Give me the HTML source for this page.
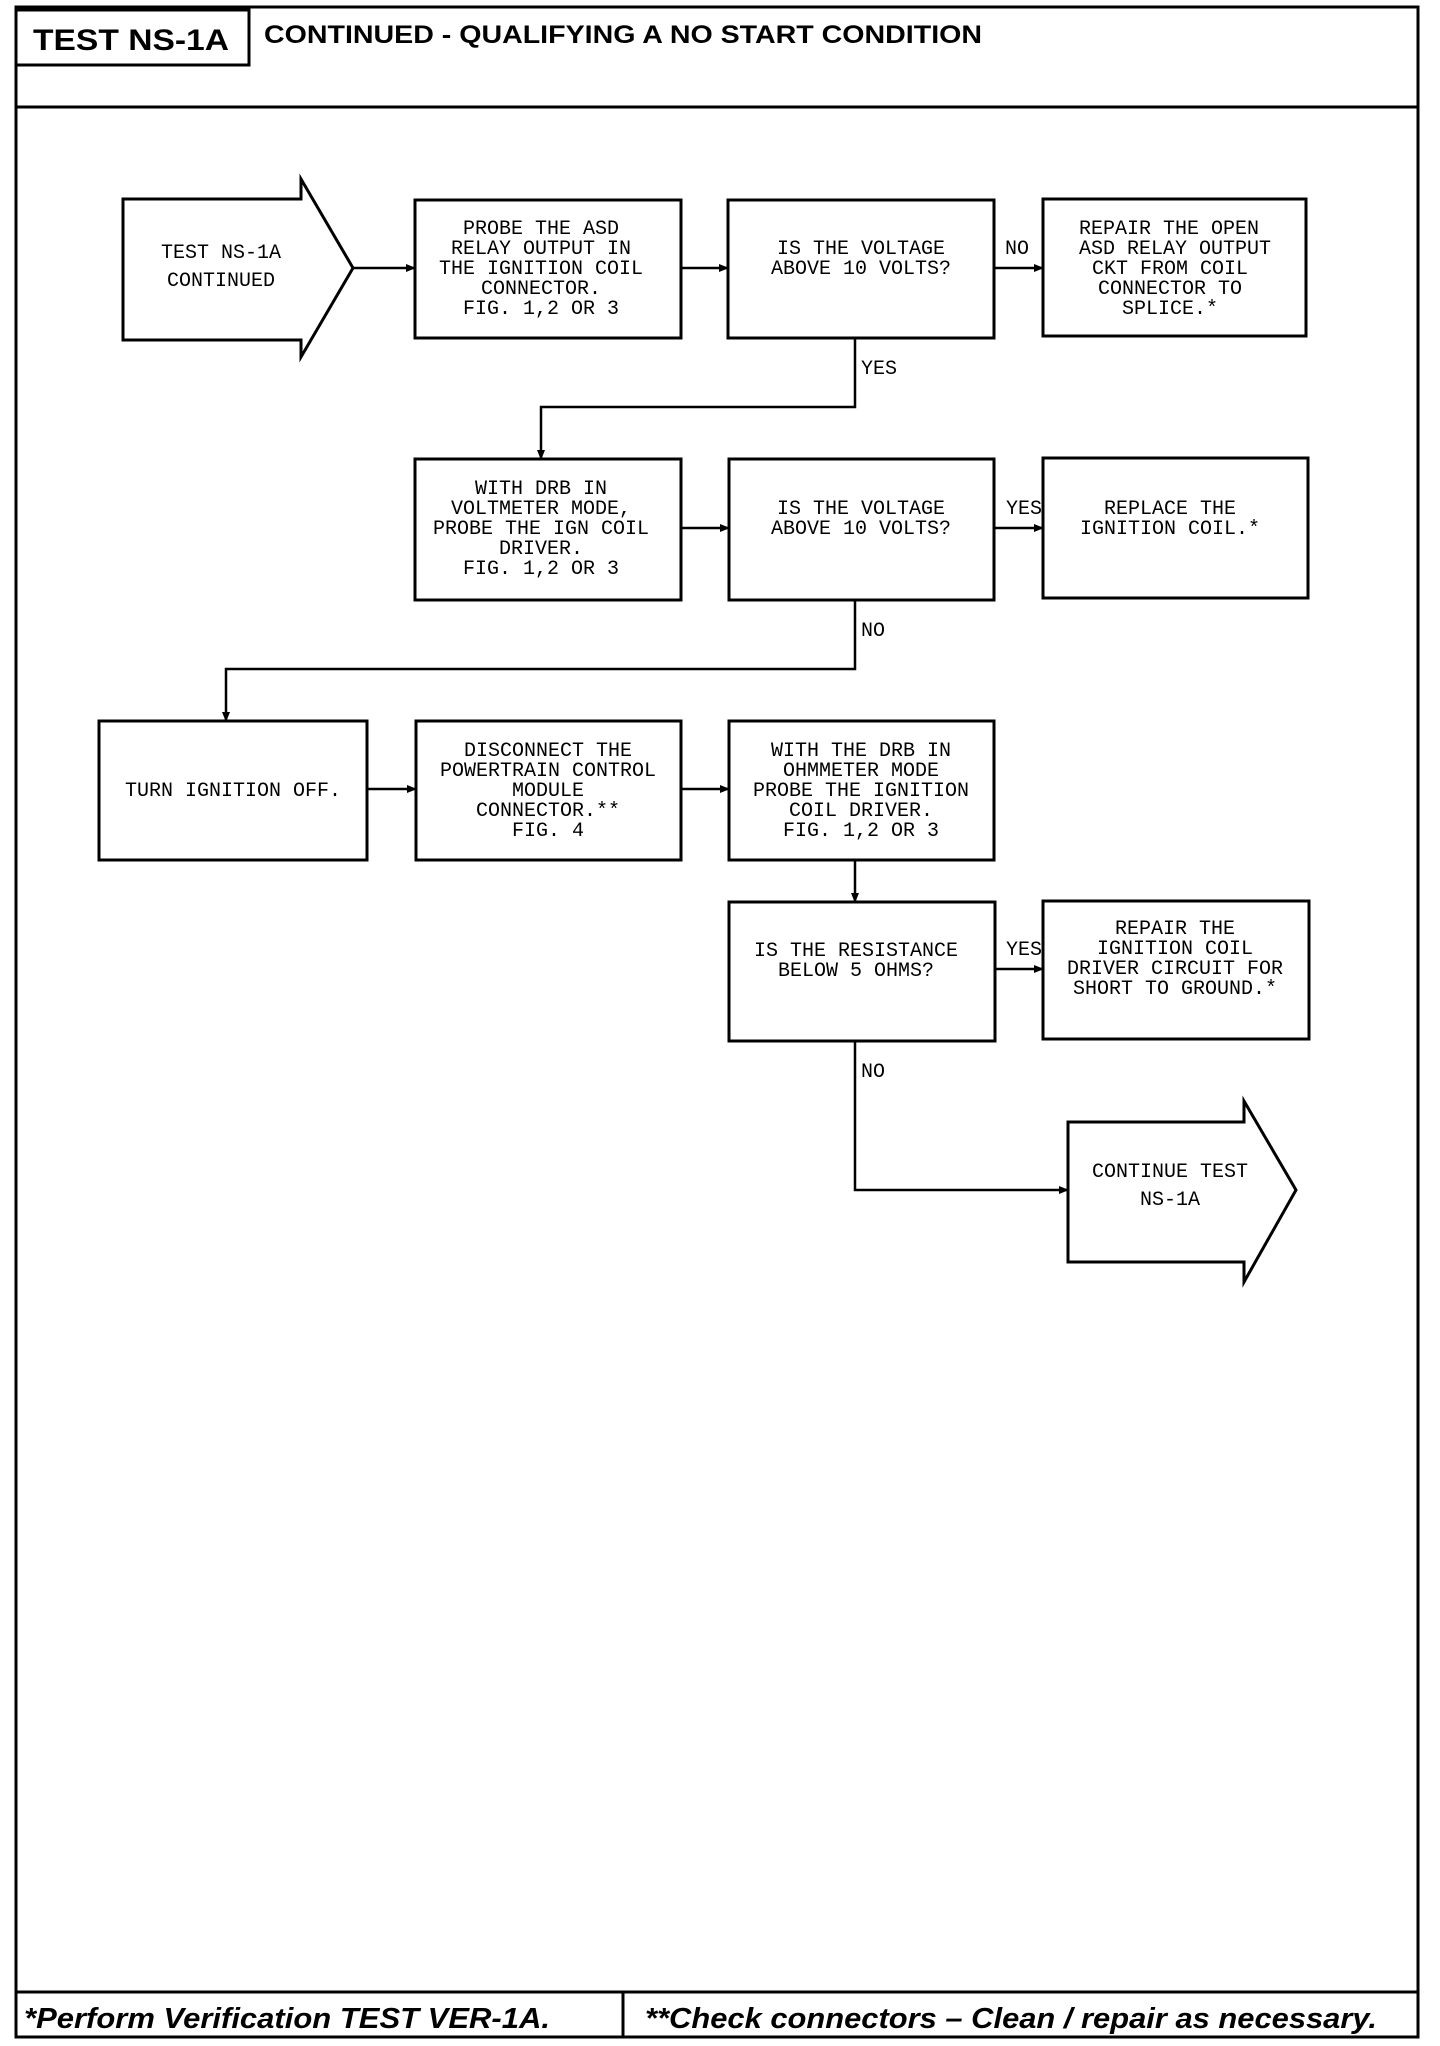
<!DOCTYPE html>
<html><head><meta charset="utf-8"><style>
html,body{margin:0;padding:0;background:#fff;}
svg{display:block;}
.m{font-family:"Liberation Mono",monospace;font-size:20px;fill:#000;}
.b{font-family:"Liberation Sans",sans-serif;font-weight:bold;fill:#000;}
</style></head><body>
<svg width="1440" height="2046" viewBox="0 0 1440 2046" xmlns="http://www.w3.org/2000/svg">
<defs><marker id="a" markerWidth="10" markerHeight="8" refX="9" refY="4" orient="auto" markerUnits="userSpaceOnUse"><path d="M0,0 L10,4 L0,8 z" fill="#000"/></marker></defs>
<g fill="none" stroke="#000" stroke-width="3">
<rect x="16" y="7" width="1402" height="2030"/>
<line x1="16" y1="107" x2="1418" y2="107"/>
<rect x="16" y="10" width="233" height="55"/>
<line x1="16" y1="1992" x2="1418" y2="1992"/>
<line x1="623" y1="1992" x2="623" y2="2037"/>
<polygon points="123,199 301,199 301,179 353,268 301,357 301,340 123,340"/>
<rect x="415" y="200" width="266" height="138"/>
<rect x="728" y="200" width="266" height="138"/>
<rect x="1043" y="199" width="263" height="137"/>
<rect x="415" y="459" width="266" height="141"/>
<rect x="729" y="459" width="265" height="141"/>
<rect x="1043" y="458" width="265" height="140"/>
<rect x="99" y="721" width="268" height="139"/>
<rect x="416" y="721" width="265" height="139"/>
<rect x="729" y="721" width="265" height="139"/>
<rect x="729" y="902" width="266" height="139"/>
<rect x="1043" y="901" width="266" height="138"/>
<polygon points="1068,1122 1244,1122 1244,1101 1296,1190 1244,1282 1244,1262 1068,1262"/>
</g>
<g fill="none" stroke="#000" stroke-width="2.5" marker-end="url(#a)">
<line x1="353" y1="268" x2="415" y2="268"/>
<line x1="681" y1="268" x2="728" y2="268"/>
<line x1="994" y1="268" x2="1043" y2="268"/>
<polyline points="855,338 855,407 541,407 541,459"/>
<line x1="681" y1="528" x2="729" y2="528"/>
<line x1="994" y1="528" x2="1043" y2="528"/>
<polyline points="855,600 855,669 226,669 226,721"/>
<line x1="367" y1="789" x2="416" y2="789"/>
<line x1="681" y1="789" x2="729" y2="789"/>
<line x1="855" y1="860" x2="855" y2="902"/>
<line x1="995" y1="969" x2="1043" y2="969"/>
<polyline points="855,1041 855,1190 1068,1190"/>
</g>
<text class="b" x="33" y="50" font-size="30" textLength="196" lengthAdjust="spacingAndGlyphs">TEST NS-1A</text>
<text class="b" x="264" y="43" font-size="25" textLength="718" lengthAdjust="spacingAndGlyphs">CONTINUED -  QUALIFYING A NO START CONDITION</text>
<text class="b" x="24" y="2028" font-size="29" font-style="italic" textLength="526" lengthAdjust="spacingAndGlyphs">*Perform Verification TEST VER-1A.</text>
<text class="b" x="645" y="2028" font-size="29" font-style="italic" textLength="732" lengthAdjust="spacingAndGlyphs">**Check connectors – Clean / repair as necessary.</text>
<g class="m" text-anchor="middle">
<text x="221" y="258">TEST NS-1A</text><text x="221" y="286">CONTINUED</text>
<text x="541" y="234">PROBE THE ASD</text><text x="541" y="254">RELAY OUTPUT IN</text><text x="541" y="274">THE IGNITION COIL</text><text x="541" y="294">CONNECTOR.</text><text x="541" y="314">FIG. 1,2 OR 3</text>
<text x="861" y="254">IS THE VOLTAGE</text><text x="861" y="274">ABOVE 10 VOLTS?</text>
<text x="1169" y="234">REPAIR THE OPEN</text><text x="1175" y="254">ASD RELAY OUTPUT</text><text x="1170" y="274">CKT FROM COIL</text><text x="1170" y="294">CONNECTOR TO</text><text x="1170" y="314">SPLICE.*</text>
<text x="541" y="494">WITH DRB IN</text><text x="541" y="514">VOLTMETER MODE,</text><text x="541" y="534">PROBE THE IGN COIL</text><text x="541" y="554">DRIVER.</text><text x="541" y="574">FIG. 1,2 OR 3</text>
<text x="861" y="514">IS THE VOLTAGE</text><text x="861" y="534">ABOVE 10 VOLTS?</text>
<text x="1170" y="514">REPLACE THE</text><text x="1170" y="534">IGNITION COIL.*</text>
<text x="233" y="796">TURN IGNITION OFF.</text>
<text x="548" y="756">DISCONNECT THE</text><text x="548" y="776">POWERTRAIN CONTROL</text><text x="548" y="796">MODULE</text><text x="548" y="816">CONNECTOR.**</text><text x="548" y="836">FIG. 4</text>
<text x="861" y="756">WITH THE DRB IN</text><text x="861" y="776">OHMMETER MODE</text><text x="861" y="796">PROBE THE IGNITION</text><text x="861" y="816">COIL DRIVER.</text><text x="861" y="836">FIG. 1,2 OR 3</text>
<text x="856" y="956">IS THE RESISTANCE</text><text x="856" y="976">BELOW 5 OHMS?</text>
<text x="1175" y="934">REPAIR THE</text><text x="1175" y="954">IGNITION COIL</text><text x="1175" y="974">DRIVER CIRCUIT FOR</text><text x="1175" y="994">SHORT TO GROUND.*</text>
<text x="1170" y="1177">CONTINUE TEST</text><text x="1170" y="1205">NS-1A</text>
</g>
<g class="m">
<text x="1005" y="254">NO</text>
<text x="861" y="374">YES</text>
<text x="1006" y="514">YES</text>
<text x="861" y="636">NO</text>
<text x="1006" y="955">YES</text>
<text x="861" y="1077">NO</text>
</g>
</svg>
</body></html>
